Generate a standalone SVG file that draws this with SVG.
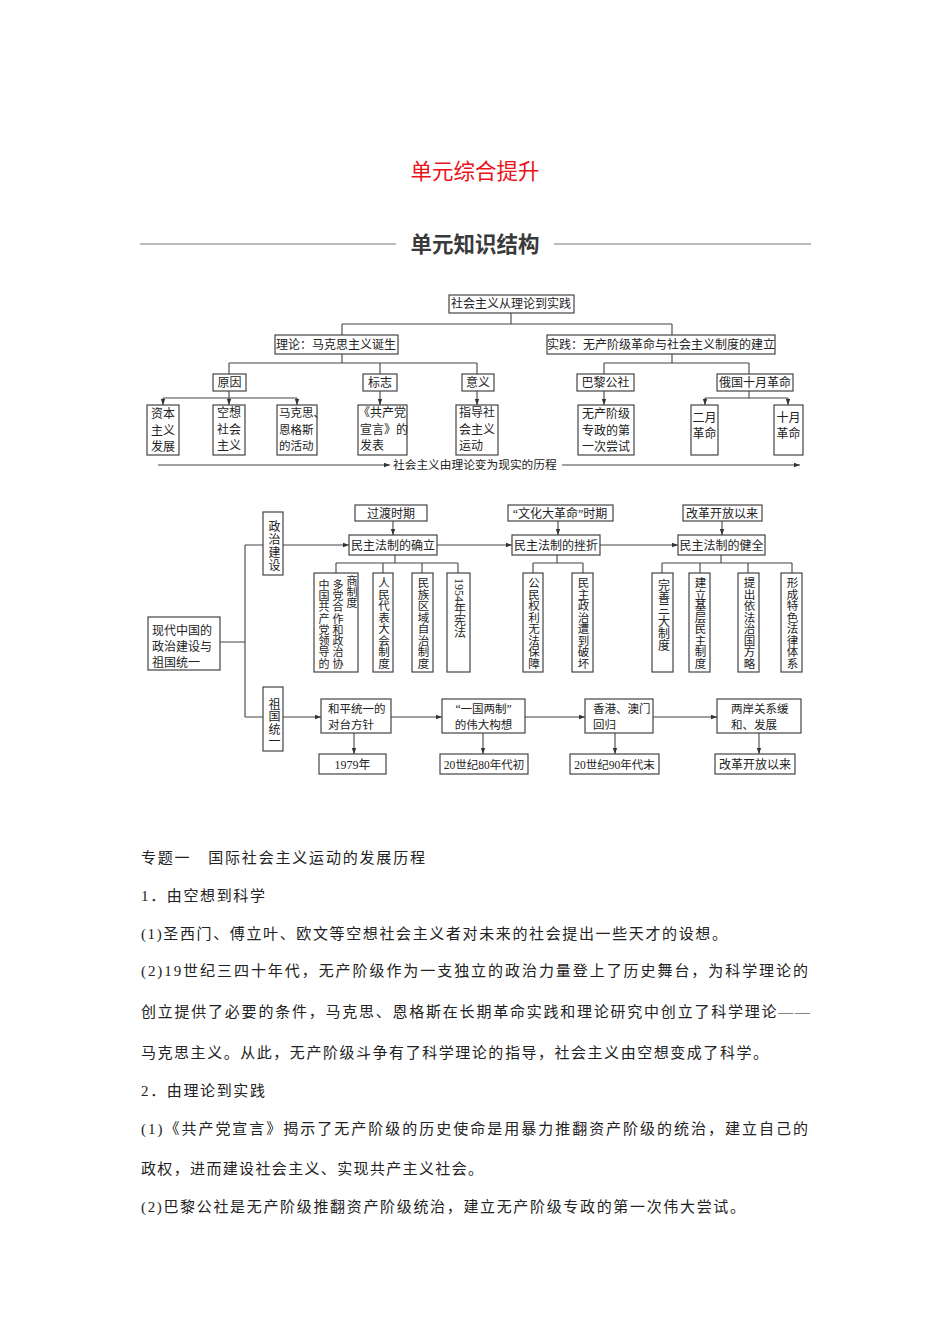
<svg xmlns="http://www.w3.org/2000/svg" width="950" height="1344" viewBox="0 0 950 1344">
<defs>
<marker id="ah" markerWidth="6" markerHeight="6" refX="6" refY="3" orient="auto" markerUnits="userSpaceOnUse">
<path d="M0,0.8 L6,3 L0,5.2 Z" fill="#333"/>
</marker>
<style>
.b{fill:#fff;stroke:#444;stroke-width:1.2}
.t{font-family:"Liberation Serif","Noto Sans CJK SC",serif;font-size:12px;fill:#222}
.c{text-anchor:middle}
.v{writing-mode:vertical-rl;font-family:"Liberation Serif","Noto Sans CJK SC",serif;font-size:11.5px;fill:#222}
.ln{fill:none;stroke:#444;stroke-width:1.1}
.ar{fill:none;stroke:#444;stroke-width:1.1;marker-end:url(#ah)}
.p{font-family:"Liberation Serif","Noto Sans CJK SC",serif;font-size:15px;fill:#222}
</style>
</defs>
<rect width="950" height="1344" fill="#fff"/>

<text x="475" y="179" text-anchor="middle" style="font-family:'Noto Sans CJK SC',sans-serif;font-size:21.5px;fill:#e8121a">单元综合提升</text>
<g id="section-header">
<line x1="140" y1="244" x2="396" y2="244" stroke="#777" stroke-width="1.2"/>
<line x1="554" y1="244" x2="811" y2="244" stroke="#777" stroke-width="1.2"/>
<text x="475" y="251.5" text-anchor="middle" style="font-family:'Noto Sans CJK SC',sans-serif;font-size:21.5px;font-weight:bold;fill:#3a3a3a">单元知识结构</text>
</g>

<g id="connectors">
<path class="ln" d="M511,313 V324 M342,324 H672 M342,324 V335 M672,324 V335"/>
<path class="ln" d="M342,354 V363 M229,363 H477 M229,363 V374 M380,363 V374 M477,363 V374"/>
<path class="ln" d="M229,391 V398 M163,398 H297"/>
<path class="ar" d="M163,398 V405"/>
<path class="ar" d="M229,398 V405"/>
<path class="ar" d="M297,398 V405"/>
<path class="ar" d="M380,391 V405"/>
<path class="ar" d="M477,391 V405"/>
<path class="ln" d="M672,354 V363 M604,363 H749 M604,363 V374 M749,363 V374"/>
<path class="ar" d="M604,391 V405"/>
<path class="ln" d="M749,391 V398 M705,398 H788"/>
<path class="ar" d="M705,398 V405"/>
<path class="ar" d="M788,398 V405"/>
<path class="ar" d="M158,465 H390"/>
<path class="ar" d="M562,465 H800"/>
<path class="ln" d="M220,642 H245 M245,545 V717 M245,545 H263 M245,717 H263"/>
<path class="ar" d="M283,545 H349"/>
<path class="ar" d="M393,521 V535"/>
<path class="ar" d="M437,545 H512"/>
<path class="ar" d="M558,521 V535"/>
<path class="ar" d="M600,545 H678"/>
<path class="ar" d="M722,521 V535"/>
<path class="ln" d="M395,555 V563 M336,563 H458 M336,563 V573 M383,563 V573 M422,563 V573 M458,563 V573"/>
<path class="ln" d="M557,555 V563 M533,563 H583 M533,563 V573 M583,563 V573"/>
<path class="ln" d="M721,555 V563 M662,563 H792 M662,563 V573 M700,563 V573 M748,563 V573 M792,563 V573"/>
<path class="ar" d="M283,717 H321"/>
<path class="ar" d="M391,717 H442"/>
<path class="ar" d="M525,717 H585"/>
<path class="ar" d="M653,717 H717"/>
<path class="ar" d="M354,733 V754"/>
<path class="ar" d="M483,733 V754"/>
<path class="ar" d="M615,733 V754"/>
<path class="ar" d="M759,733 V754"/>
</g>

<text class="t" x="393" y="469" style="font-size:11.7px">社会主义由理论变为现实的历程</text>

<g id="n-root"><rect class="b" x="449" y="295" width="125" height="18"/><text class="t c" x="511" y="308">社会主义从理论到实践</text></g>
<g id="n-theory"><rect class="b" x="275" y="335" width="123" height="19"/><text class="t c" x="336" y="348.5">理论：马克思主义诞生</text></g>
<g id="n-practice"><rect class="b" x="547" y="335" width="228" height="19"/><text class="t c" x="661" y="348.5">实践：无产阶级革命与社会主义制度的建立</text></g>
<g id="n-cause"><rect class="b" x="213" y="374" width="33" height="17"/><text class="t c" x="229.5" y="386.5">原因</text></g>
<g id="n-mark"><rect class="b" x="363" y="374" width="34" height="17"/><text class="t c" x="380" y="386.5">标志</text></g>
<g id="n-meaning"><rect class="b" x="462" y="374" width="32" height="17"/><text class="t c" x="478" y="386.5">意义</text></g>
<g id="n-paris"><rect class="b" x="577" y="374" width="57" height="17"/><text class="t c" x="605.5" y="386.5">巴黎公社</text></g>
<g id="n-oct"><rect class="b" x="717" y="374" width="76" height="17"/><text class="t c" x="755" y="386.5">俄国十月革命</text></g>

<g id="n-capital"><rect class="b" x="147" y="405" width="32" height="50"/><text class="t"><tspan x="151" y="418">资本</tspan><tspan x="151" y="434.5">主义</tspan><tspan x="151" y="451">发展</tspan></text></g>
<g id="n-utopia"><rect class="b" x="213" y="405" width="32" height="50"/><text class="t"><tspan x="217" y="417">空想</tspan><tspan x="217" y="433.5">社会</tspan><tspan x="217" y="450">主义</tspan></text></g>
<g id="n-marx"><rect class="b" x="277" y="405" width="40" height="50"/><text class="t" style="font-size:11.5px"><tspan x="279" y="417">马克思、</tspan><tspan x="279" y="433.5">恩格斯</tspan><tspan x="279" y="450">的活动</tspan></text></g>
<g id="n-manifesto"><rect class="b" x="358" y="405" width="49" height="50"/><text class="t"><tspan x="358" y="417">《共产党</tspan><tspan x="360" y="433.5">宣言》的</tspan><tspan x="360" y="450">发表</tspan></text></g>
<g id="n-guide"><rect class="b" x="456" y="405" width="42" height="50"/><text class="t"><tspan x="459" y="417">指导社</tspan><tspan x="459" y="433.5">会主义</tspan><tspan x="459" y="450">运动</tspan></text></g>
<g id="n-first"><rect class="b" x="578" y="405" width="56" height="50"/><text class="t c"><tspan x="606" y="418">无产阶级</tspan><tspan x="606" y="434.5">专政的第</tspan><tspan x="606" y="451">一次尝试</tspan></text></g>
<g id="n-feb"><rect class="b" x="691" y="405" width="27" height="50"/><text class="t c"><tspan x="704.5" y="422">二月</tspan><tspan x="704.5" y="438">革命</tspan></text></g>
<g id="n-octrev"><rect class="b" x="774" y="405" width="29" height="50"/><text class="t c"><tspan x="788.5" y="422">十月</tspan><tspan x="788.5" y="438">革命</tspan></text></g>

<g id="n-main"><rect class="b" x="148" y="617" width="72" height="53"/><text class="t"><tspan x="152" y="635">现代中国的</tspan><tspan x="152" y="651">政治建设与</tspan><tspan x="152" y="667">祖国统一</tspan></text></g>
<g id="n-politics"><rect class="b" x="263" y="512" width="20" height="63"/><text class="v" x="273" y="520" style="font-size:12px;letter-spacing:1px">政治建设</text></g>
<g id="n-transition"><rect class="b" x="355" y="505" width="72" height="16"/><text class="t c" x="391" y="517.5">过渡时期</text></g>
<g id="n-cr"><rect class="b" x="508" y="505" width="105" height="16"/><text class="t c" x="560" y="517.5">“文化大革命”时期</text></g>
<g id="n-reform1"><rect class="b" x="683" y="505" width="79" height="16"/><text class="t c" x="722" y="517.5">改革开放以来</text></g>
<g id="n-est"><rect class="b" x="349" y="535" width="88" height="20"/><text class="t c" x="393" y="549.5">民主法制的确立</text></g>
<g id="n-setback"><rect class="b" x="512" y="535" width="88" height="20"/><text class="t c" x="556" y="549.5">民主法制的挫折</text></g>
<g id="n-improve"><rect class="b" x="678" y="535" width="87" height="20"/><text class="t c" x="721.5" y="549.5">民主法制的健全</text></g>

<g id="n-cpc"><rect class="b" x="314" y="573" width="44" height="99"/>
<text class="v" x="323" y="579" style="font-size:11px;letter-spacing:0.3px">中国共产党领导的</text>
<text class="v" x="337" y="579" style="font-size:11px;letter-spacing:0.3px">多党合作和政治协</text>
<text class="v" x="351" y="575" style="font-size:11px">商制度</text></g>
<g id="n-npc"><rect class="b" x="373" y="573" width="20" height="99"/><text class="v" x="383" y="577">人民代表大会制度</text></g>
<g id="n-ethnic"><rect class="b" x="412" y="573" width="21" height="99"/><text class="v" x="422.5" y="577">民族区域自治制度</text></g>
<g id="n-1954"><rect class="b" x="447" y="573" width="23" height="99"/><text class="v" x="458.5" y="578" style="font-size:12px">1954年宪法</text></g>
<g id="n-rights"><rect class="b" x="523" y="573" width="20" height="99"/><text class="v" x="533" y="577">公民权利无法保障</text></g>
<g id="n-destroy"><rect class="b" x="572" y="573" width="21" height="99"/><text class="v" x="582.5" y="577">民主政治遭到破坏</text></g>
<g id="n-three"><rect class="b" x="652" y="573" width="21" height="99"/><text class="v" x="662.5" y="579" style="font-size:12px">完善三大制度</text></g>
<g id="n-grass"><rect class="b" x="689" y="573" width="21" height="99"/><text class="v" x="699.5" y="577">建立基层民主制度</text></g>
<g id="n-law"><rect class="b" x="738" y="573" width="21" height="99"/><text class="v" x="748.5" y="577">提出依法治国方略</text></g>
<g id="n-system"><rect class="b" x="781" y="573" width="21" height="99"/><text class="v" x="791.5" y="577">形成特色法律体系</text></g>

<g id="n-unify"><rect class="b" x="263" y="687" width="20" height="64"/><text class="v" x="273" y="698" style="font-size:12px;letter-spacing:0.5px">祖国统一</text></g>
<g id="n-peace"><rect class="b" x="321" y="699" width="70" height="34"/><text class="t" style="font-size:11.5px"><tspan x="328" y="713">和平统一的</tspan><tspan x="328" y="729">对台方针</tspan></text></g>
<g id="n-ocs"><rect class="b" x="442" y="699" width="83" height="34"/><text class="t c" style="font-size:11.5px"><tspan x="483.5" y="713">“一国两制”</tspan><tspan x="483.5" y="729">的伟大构想</tspan></text></g>
<g id="n-hk"><rect class="b" x="585" y="699" width="68" height="34"/><text class="t" style="font-size:11.5px"><tspan x="593" y="713">香港、澳门</tspan><tspan x="593" y="729">回归</tspan></text></g>
<g id="n-strait"><rect class="b" x="717" y="699" width="84" height="34"/><text class="t" style="font-size:11.5px"><tspan x="731" y="713">两岸关系缓</tspan><tspan x="731" y="729">和、发展</tspan></text></g>
<g id="n-d1979"><rect class="b" x="319" y="754" width="67" height="20"/><text class="t c" x="352.5" y="768.5">1979年</text></g>
<g id="n-d80"><rect class="b" x="440" y="754" width="88" height="20"/><text class="t c" x="484" y="768.5" style="font-size:11.5px">20世纪80年代初</text></g>
<g id="n-d90"><rect class="b" x="570" y="754" width="89" height="20"/><text class="t c" x="614.5" y="768.5" style="font-size:11.5px">20世纪90年代末</text></g>
<g id="n-reform2"><rect class="b" x="715" y="754" width="80" height="20"/><text class="t c" x="755" y="768.5">改革开放以来</text></g>

<g id="body">
<text class="p" x="141" y="863" textLength="284" lengthAdjust="spacing">专题一　国际社会主义运动的发展历程</text>
<text class="p" x="141" y="901" textLength="124" lengthAdjust="spacing">1．由空想到科学</text>
<text class="p" x="141" y="939" textLength="586" lengthAdjust="spacing">(1)圣西门、傅立叶、欧文等空想社会主义者对未来的社会提出一些天才的设想。</text>
<text class="p" x="141" y="976" textLength="667" lengthAdjust="spacing">(2)19世纪三四十年代，无产阶级作为一支独立的政治力量登上了历史舞台，为科学理论的</text>
<text class="p" x="141" y="1017" textLength="669" lengthAdjust="spacing">创立提供了必要的条件，马克思、恩格斯在长期革命实践和理论研究中创立了科学理论——</text>
<text class="p" x="141" y="1058" textLength="627" lengthAdjust="spacing">马克思主义。从此，无产阶级斗争有了科学理论的指导，社会主义由空想变成了科学。</text>
<text class="p" x="141" y="1096" textLength="124" lengthAdjust="spacing">2．由理论到实践</text>
<text class="p" x="141" y="1134" textLength="667" lengthAdjust="spacing">(1)《共产党宣言》揭示了无产阶级的历史使命是用暴力推翻资产阶级的统治，建立自己的</text>
<text class="p" x="141" y="1174" textLength="342" lengthAdjust="spacing">政权，进而建设社会主义、实现共产主义社会。</text>
<text class="p" x="141" y="1212" textLength="604" lengthAdjust="spacing">(2)巴黎公社是无产阶级推翻资产阶级统治，建立无产阶级专政的第一次伟大尝试。</text>
</g>
</svg>
